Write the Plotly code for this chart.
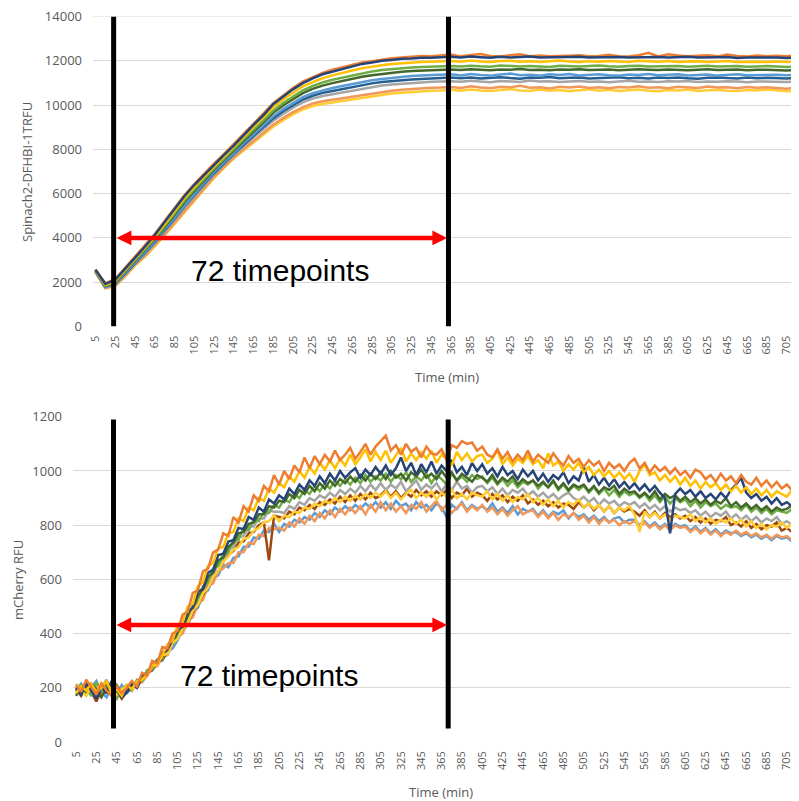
import plotly.graph_objects as go

# ---------------- data ----------------
time_top = [5, 15, 25, 35, 45, 55, 65, 75, 85, 95,
            105, 115, 125, 135, 145, 155, 165, 175, 185, 195,
            205, 215, 225, 235, 245, 255, 265, 275, 285, 295,
            305, 315, 325, 335, 345, 355, 365, 375, 385, 395,
            405, 415, 425, 435, 445, 455, 465, 475, 485, 495,
            505, 515, 525, 535, 545, 555, 565, 575, 585, 595,
            605, 615, 625, 635, 645, 655, 665, 675, 685, 695,
            705, 715]

time_bottom = [5, 10, 15, 20, 25, 30, 35, 40, 45, 50, 55, 60, 65, 70, 75, 80, 85, 90, 95, 100,
               105, 110, 115, 120, 125, 130, 135, 140, 145, 150, 155, 160, 165, 170, 175, 180, 185, 190, 195, 200,
               205, 210, 215, 220, 225, 230, 235, 240, 245, 250, 255, 260, 265, 270, 275, 280, 285, 290, 295, 300,
               305, 310, 315, 320, 325, 330, 335, 340, 345, 350, 355, 360, 365, 370, 375, 380, 385, 390, 395, 400,
               405, 410, 415, 420, 425, 430, 435, 440, 445, 450, 455, 460, 465, 470, 475, 480, 485, 490, 495, 500,
               505, 510, 515, 520, 525, 530, 535, 540, 545, 550, 555, 560, 565, 570, 575, 580, 585, 590, 595, 600,
               605, 610, 615, 620, 625, 630, 635, 640, 645, 650, 655, 660, 665, 670, 675, 680, 685, 690, 695, 700,
               705, 710, 715]

x_tick_labels = [5, 25, 45, 65, 85, 105, 125, 145, 165, 185, 205, 225, 245, 265, 285, 305, 325, 345,
                 365, 385, 405, 425, 445, 465, 485, 505, 525, 545, 565, 585, 605, 625, 645, 665, 685, 705]

# Spinach2-DFHBI-1T fluorescence (top panel)
spinach_1 = [2560, 1920, 2110, 2600, 3110, 3600, 4130, 4700, 5310, 5880, 6390, 6850, 7310, 7740, 8170, 8650, 9110, 9540, 10040, 10380,
             10710, 10990, 11210, 11390, 11510, 11650, 11740, 11860, 11920, 12000, 12040, 12090, 12100, 12140, 12140, 12170,
             12180, 12150, 12190, 12160, 12140, 12180, 12150, 12170, 12190, 12150, 12160, 12140, 12170, 12180, 12150, 12160, 12190, 12170,
             12150, 12160, 12140, 12170, 12150, 12160, 12180, 12150, 12140, 12160, 12170, 12130, 12150, 12160, 12140, 12150, 12130, 12150]
spinach_2 = [2580, 1950, 2140, 2640, 3150, 3640, 4170, 4760, 5350, 5930, 6430, 6900, 7350, 7780, 8230, 8700, 9150, 9610, 10090, 10430,
             10770, 11060, 11270, 11450, 11600, 11710, 11830, 11920, 11980, 12060, 12110, 12150, 12200, 12220, 12210, 12250,
             12280, 12200, 12260, 12310, 12220, 12190, 12250, 12290, 12210, 12240, 12200, 12230, 12230, 12250, 12200, 12220, 12270, 12210,
             12190, 12250, 12360, 12200, 12290, 12240, 12210, 12230, 12250, 12200, 12280, 12220, 12190, 12240, 12210, 12230, 12200, 12260]
spinach_3 = [2540, 1880, 2060, 2560, 3060, 3540, 4060, 4620, 5210, 5790, 6290, 6770, 7220, 7660, 8100, 8550, 9000, 9440, 9900, 10250,
             10560, 10850, 11040, 11210, 11340, 11460, 11560, 11660, 11740, 11800, 11850, 11890, 11920, 11940, 11960, 11970,
             11990, 11960, 12010, 11970, 11950, 11990, 12000, 11960, 11980, 11940, 11990, 12010, 11970, 11950, 11980, 11960, 11990, 11970,
             11940, 12000, 11980, 11960, 11990, 11950, 11970, 11980, 11940, 11960, 11990, 11950, 11970, 11960, 11940, 11970, 11950, 11960]
spinach_4 = [2520, 1850, 2020, 2500, 3000, 3480, 3980, 4540, 5110, 5680, 6190, 6670, 7140, 7570, 8020, 8450, 8890, 9310, 9750, 10090,
             10390, 10670, 10860, 11020, 11140, 11240, 11340, 11440, 11520, 11580, 11630, 11670, 11700, 11720, 11740, 11750,
             11770, 11740, 11780, 11750, 11730, 11790, 11760, 11740, 11770, 11750, 11720, 11780, 11760, 11740, 11770, 11790, 11750, 11730,
             11760, 11780, 11740, 11760, 11750, 11770, 11730, 11760, 11780, 11740, 11750, 11770, 11730, 11750, 11760, 11740, 11720, 11750]
spinach_5 = [2510, 1830, 1990, 2470, 2970, 3430, 3930, 4470, 5040, 5600, 6110, 6600, 7070, 7510, 7950, 8380, 8800, 9220, 9650, 9980,
             10270, 10540, 10730, 10880, 10990, 11090, 11180, 11280, 11350, 11410, 11460, 11500, 11540, 11560, 11580, 11590,
             11610, 11580, 11620, 11590, 11570, 11610, 11600, 11630, 11580, 11600, 11570, 11610, 11590, 11620, 11580, 11600, 11610, 11570,
             11590, 11620, 11600, 11580, 11610, 11590, 11570, 11600, 11620, 11580, 11590, 11610, 11570, 11600, 11590, 11580, 11560, 11590]
spinach_6 = [2500, 1800, 1950, 2410, 2910, 3360, 3850, 4380, 4940, 5490, 6010, 6500, 6980, 7420, 7860, 8270, 8680, 9090, 9490, 9820,
             10100, 10360, 10540, 10670, 10770, 10860, 10950, 11050, 11120, 11180, 11230, 11270, 11310, 11330, 11350, 11360,
             11390, 11340, 11400, 11360, 11330, 11380, 11420, 11350, 11370, 11330, 11390, 11360, 11400, 11340, 11370, 11390, 11350, 11330,
             11380, 11360, 11400, 11350, 11370, 11390, 11340, 11360, 11380, 11330, 11370, 11390, 11350, 11360, 11340, 11370, 11350, 11380]
spinach_7 = [2490, 1790, 1920, 2380, 2880, 3320, 3810, 4320, 4870, 5420, 5940, 6440, 6920, 7370, 7800, 8210, 8610, 9000, 9400, 9720,
             10000, 10250, 10420, 10550, 10640, 10730, 10800, 10900, 10980, 11040, 11090, 11130, 11160, 11180, 11210, 11220,
             11250, 11210, 11240, 11200, 11230, 11260, 11220, 11190, 11240, 11230, 11270, 11210, 11230, 11250, 11200, 11220, 11240, 11260,
             11210, 11230, 11200, 11240, 11220, 11250, 11210, 11190, 11230, 11250, 11220, 11200, 11240, 11210, 11230, 11220, 11200, 11230]
spinach_8 = [2480, 1770, 1900, 2340, 2840, 3270, 3750, 4260, 4800, 5350, 5870, 6370, 6860, 7310, 7740, 8130, 8530, 8910, 9290, 9600,
             9880, 10120, 10290, 10410, 10490, 10570, 10640, 10740, 10820, 10880, 10930, 10970, 11000, 11020, 11050, 11060,
             11080, 11050, 11100, 11060, 11030, 11090, 11070, 11040, 11110, 11060, 11080, 11040, 11070, 11090, 11050, 11060, 11030, 11080,
             11100, 11050, 11070, 11040, 11080, 11060, 11090, 11040, 11070, 11050, 11080, 11060, 11030, 11070, 11050, 11060, 11040, 11070]
spinach_9 = [2460, 1740, 1850, 2280, 2790, 3190, 3670, 4150, 4690, 5210, 5740, 6260, 6750, 7200, 7630, 8010, 8390, 8760, 9110, 9410,
             9680, 9900, 10070, 10170, 10240, 10310, 10370, 10470, 10540, 10600, 10650, 10690, 10730, 10750, 10780, 10790,
             10820, 10770, 10850, 10790, 10760, 10830, 10800, 10870, 10780, 10810, 10750, 10830, 10790, 10840, 10770, 10800, 10760, 10820,
             10790, 10850, 10780, 10810, 10760, 10830, 10800, 10770, 10840, 10790, 10810, 10760, 10820, 10780, 10800, 10770, 10740, 10790]
spinach_10 = [2450, 1720, 1820, 2250, 2750, 3150, 3620, 4100, 4620, 5150, 5680, 6200, 6700, 7150, 7580, 7950, 8320, 8680, 9020, 9320,
              9580, 9800, 9960, 10050, 10120, 10180, 10240, 10340, 10410, 10470, 10520, 10560, 10600, 10620, 10650, 10660,
              10690, 10650, 10700, 10660, 10630, 10680, 10720, 10660, 10640, 10700, 10650, 10680, 10630, 10670, 10710, 10650, 10690, 10640,
              10670, 10700, 10650, 10620, 10680, 10660, 10700, 10640, 10670, 10690, 10650, 10630, 10680, 10660, 10700, 10650, 10620, 10660]

# mCherry fluorescence (bottom panel)
mcherry_1 = [210, 185, 230, 200, 175, 215, 190, 170, 205, 180, 200, 225, 205, 255, 245, 300, 290, 350, 345, 400,
             410, 470, 480, 550, 560, 630, 640, 700, 710, 770, 760, 830, 810, 870, 850, 910, 890, 945, 925, 985,
             950, 1000, 970, 1020, 995, 1050, 1010, 1055, 1025, 1060, 1035, 1075, 1040, 1060, 1085, 1045, 1070, 1100, 1060, 1090,
             1110, 1130, 1075, 1095, 1060, 1100, 1070, 1085, 1050, 1090, 1065, 1060, 1080, 1040, 1095, 1085, 1110, 1100, 1105, 1075,
             1090, 1060, 1050, 1080, 1045, 1070, 1035, 1060, 1040, 1075, 1035, 1060, 1045, 1030, 1065, 1040, 1020, 1055, 1030, 1045,
             1015, 1040, 1020, 1035, 1000, 1030, 1010, 1025, 1000, 1030, 1045, 1010, 1030, 995, 1020, 1000, 1015, 990, 1010, 985,
             1000, 975, 1005, 995, 970, 985, 960, 990, 965, 980, 955, 985, 960, 950, 975, 945, 965, 940, 960, 935,
             950, 930, 925]
mcherry_2 = [180, 205, 190, 215, 185, 200, 225, 180, 195, 170, 210, 195, 225, 230, 250, 285, 290, 320, 360, 375,
             430, 440, 500, 510, 575, 590, 650, 660, 715, 720, 770, 775, 825, 815, 865, 855, 900, 890, 935, 920,
             955, 940, 980, 960, 1000, 975, 1015, 990, 1030, 1005, 1040, 1010, 1045, 1020, 1060, 1025, 1050, 1080, 1035, 1070,
             1040, 1075, 1030, 1060, 1085, 1035, 1065, 1040, 1070, 1045, 1075, 1030, 1060, 1045, 1020, 1070, 1040, 1065, 1035, 1055,
             1060, 1030, 1045, 1075, 1025, 1050, 1020, 1045, 1030, 1055, 1025, 1040, 1010, 1065, 1020, 1035, 1000, 1025, 1005, 1030,
             995, 1015, 985, 1005, 980, 1000, 975, 995, 970, 990, 960, 1000, 1025, 985, 995, 965, 985, 960, 980, 950,
             975, 945, 965, 935, 960, 940, 955, 930, 950, 925, 945, 920, 940, 915, 935, 910, 930, 905, 925, 915,
             905, 930, 915]
mcherry_3 = [200, 175, 215, 190, 160, 205, 180, 225, 190, 165, 185, 215, 200, 245, 250, 285, 295, 330, 340, 380,
             415, 425, 480, 495, 555, 565, 625, 635, 690, 695, 740, 745, 790, 785, 830, 820, 865, 850, 895, 880,
             910, 895, 935, 915, 950, 930, 965, 945, 980, 955, 990, 965, 1000, 975, 995, 1010, 975, 1005, 985, 1015,
             990, 1020, 985, 1010, 1050, 1000, 1030, 985, 1025, 995, 1035, 990, 1020, 1000, 1040, 995, 1015, 985, 1030, 1000,
             1025, 990, 1010, 980, 1015, 985, 1000, 970, 1005, 980, 1000, 965, 990, 960, 985, 970, 995, 955, 980, 965,
             1015, 960, 985, 950, 975, 945, 970, 940, 960, 935, 955, 930, 950, 925, 945, 920, 900, 770, 915, 935,
             915, 930, 905, 925, 900, 915, 895, 920, 900, 930, 950, 975, 920, 900, 915, 890, 905, 880, 900, 875,
             885, 870, 868]
mcherry_4 = [185, 210, 195, 170, 220, 190, 205, 180, 160, 195, 210, 190, 230, 225, 265, 270, 305, 310, 350, 360,
             390, 440, 450, 505, 520, 575, 590, 640, 650, 695, 700, 745, 745, 790, 780, 820, 815, 850, 845, 875,
             865, 895, 885, 915, 900, 930, 915, 945, 925, 955, 935, 965, 945, 970, 950, 975, 955, 985, 960, 980,
             965, 990, 960, 985, 970, 995, 960, 980, 965, 990, 955, 985, 970, 950, 990, 965, 980, 960, 985, 970,
             980, 955, 975, 950, 970, 945, 965, 940, 960, 950, 965, 935, 955, 940, 960, 930, 950, 925, 945, 930,
             945, 920, 940, 915, 935, 910, 930, 905, 925, 910, 920, 900, 915, 890, 910, 885, 905, 880, 900, 885,
             895, 870, 890, 865, 885, 870, 880, 860, 875, 865, 870, 855, 875, 850, 865, 845, 860, 840, 855, 850,
             845, 860, 850]
mcherry_5 = [170, 200, 180, 215, 195, 165, 200, 185, 210, 175, 185, 200, 220, 240, 250, 280, 300, 315, 345, 365,
             405, 420, 465, 490, 540, 560, 610, 625, 670, 680, 720, 735, 770, 775, 805, 810, 840, 840, 870, 865,
             890, 885, 915, 900, 930, 915, 945, 925, 955, 935, 965, 945, 970, 955, 980, 960, 985, 965, 990, 970,
             995, 970, 1000, 975, 990, 965, 995, 980, 1005, 975, 990, 970, 1000, 975, 995, 965, 990, 975, 960, 985,
             975, 960, 985, 955, 975, 960, 980, 950, 970, 955, 965, 945, 960, 940, 965, 935, 955, 930, 950, 940,
             950, 925, 945, 920, 940, 930, 945, 915, 935, 920, 925, 905, 920, 900, 925, 895, 915, 900, 910, 890,
             905, 885, 900, 880, 895, 875, 890, 880, 900, 870, 885, 865, 880, 860, 875, 855, 870, 850, 865, 855,
             860, 875, 860]
mcherry_6 = [205, 180, 220, 195, 175, 200, 230, 190, 170, 200, 190, 215, 210, 240, 260, 270, 300, 310, 345, 360,
             400, 420, 460, 485, 530, 555, 600, 615, 660, 670, 710, 720, 755, 760, 795, 795, 825, 825, 855, 850,
             850, 845, 870, 860, 885, 875, 900, 890, 910, 900, 920, 905, 930, 915, 935, 920, 945, 925, 950, 930,
             955, 930, 950, 935, 960, 925, 945, 965, 930, 950, 935, 955, 925, 950, 930, 960, 935, 945, 920, 940,
             945, 925, 940, 915, 935, 910, 930, 920, 935, 910, 925, 905, 920, 900, 915, 895, 910, 920, 900, 890,
             905, 885, 900, 875, 895, 880, 890, 870, 885, 875, 885, 865, 880, 860, 875, 855, 870, 850, 865, 855,
             860, 845, 855, 835, 850, 830, 845, 835, 850, 825, 840, 820, 835, 815, 830, 810, 825, 815, 830, 805,
             815, 800, 810]
mcherry_7 = [190, 215, 175, 200, 225, 185, 165, 200, 180, 210, 180, 200, 220, 225, 255, 265, 295, 300, 335, 345,
             375, 415, 430, 480, 495, 545, 560, 605, 615, 655, 645, 680, 685, 720, 720, 755, 750, 780, 775, 805,
             775, 805, 795, 820, 810, 830, 820, 845, 830, 855, 840, 865, 850, 870, 855, 875, 860, 880, 865, 885,
             865, 885, 860, 890, 870, 880, 855, 885, 865, 875, 855, 880, 865, 830, 875, 860, 885, 855, 875, 860,
             870, 855, 880, 850, 865, 845, 870, 840, 860, 850, 860, 835, 855, 830, 850, 840, 855, 825, 845, 830,
             840, 820, 835, 815, 830, 810, 825, 830, 810, 820, 820, 800, 815, 795, 810, 790, 805, 785, 805, 795,
             800, 780, 795, 775, 790, 770, 785, 765, 780, 770, 775, 760, 770, 755, 765, 750, 760, 745, 760, 750,
             755, 740, 750]
mcherry_8 = [175, 200, 215, 185, 205, 170, 210, 195, 160, 185, 200, 190, 225, 220, 245, 275, 280, 315, 320, 360,
             390, 400, 445, 460, 510, 525, 575, 585, 630, 640, 660, 660, 700, 700, 735, 730, 765, 760, 790, 785,
             790, 780, 810, 795, 825, 805, 835, 815, 845, 825, 855, 830, 860, 840, 865, 845, 870, 840, 875, 850,
             885, 855, 880, 850, 870, 845, 875, 860, 885, 850, 870, 890, 855, 875, 845, 865, 880, 850, 870, 855,
             875, 850, 865, 840, 860, 835, 855, 870, 840, 850, 855, 830, 850, 825, 845, 820, 840, 830, 845, 820,
             835, 810, 830, 805, 825, 810, 820, 800, 815, 805, 815, 795, 810, 790, 805, 785, 800, 780, 800, 790,
             795, 775, 790, 770, 785, 765, 780, 760, 775, 765, 780, 765, 775, 760, 770, 755, 765, 750, 765, 755,
             760, 745, 750]
mcherry_9 = [215, 190, 170, 205, 180, 220, 185, 200, 175, 195, 205, 195, 215, 240, 245, 280, 285, 320, 325, 365,
             380, 420, 440, 485, 505, 550, 570, 610, 630, 665, 685, 710, 720, 750, 755, 780, 790, 810, 815, 835,
             815, 835, 830, 850, 845, 865, 860, 880, 870, 890, 880, 900, 885, 905, 890, 910, 895, 915, 900, 920,
             905, 925, 900, 920, 895, 915, 930, 900, 920, 905, 925, 895, 920, 905, 930, 900, 915, 895, 920, 910,
             905, 925, 895, 915, 890, 910, 885, 905, 895, 915, 885, 900, 875, 895, 870, 890, 865, 885, 875, 895,
             865, 880, 860, 875, 850, 870, 845, 865, 855, 870, 840, 775, 850, 830, 845, 825, 840, 820, 835, 830,
             825, 840, 815, 830, 810, 825, 805, 820, 810, 825, 805, 820, 795, 815, 790, 805, 785, 800, 795, 810,
             790, 805, 785]
mcherry_10 = [195, 170, 205, 185, 150, 190, 215, 175, 195, 160, 185, 210, 200, 235, 255, 265, 295, 305, 330, 365,
              385, 420, 440, 480, 505, 545, 575, 610, 630, 665, 690, 705, 735, 740, 770, 775, 800, 810, 670, 835,
              830, 825, 850, 840, 865, 855, 875, 860, 885, 875, 895, 880, 905, 885, 910, 890, 915, 895, 920, 900,
              910, 930, 905, 925, 900, 920, 905, 930, 910, 925, 905, 925, 910, 930, 900, 920, 910, 935, 905, 920,
              910, 890, 915, 895, 910, 885, 905, 890, 910, 880, 895, 875, 890, 870, 885, 865, 880, 875, 860, 885,
              865, 880, 855, 875, 850, 870, 845, 865, 850, 860, 850, 835, 855, 830, 850, 825, 845, 830, 840, 825,
              835, 815, 830, 810, 825, 805, 820, 815, 830, 800, 810, 795, 815, 790, 805, 785, 800, 795, 810, 780,
              790, 775, 755]

# ---------------- figure ----------------
# The page body keeps an 8 px margin, so the figure is 8 px smaller and all
# window-pixel positions below are shifted by OFF.
OFF = 8
W, H = 799 - OFF, 801 - OFF
FONT = "Open Sans"
GREY = "#595959"
GRID = "#D9D9D9"


def fx(px):
    return (px - OFF) / W


def fy(py):
    return 1 - (py - OFF) / H


top_series = [
    (spinach_10, "#FFCD33"), (spinach_9, "#F1975A"), (spinach_8, "#A5A5A5"),
    (spinach_7, "#255E91"), (spinach_6, "#5B9BD5"), (spinach_5, "#43682B"),
    (spinach_4, "#70AD47"), (spinach_3, "#FFC000"), (spinach_2, "#ED7D31"),
    (spinach_1, "#264478"),
]
bottom_series = [
    (mcherry_7, "#5B9BD5"), (mcherry_8, "#F1975A"), (mcherry_10, "#9E480E"),
    (mcherry_6, "#A5A5A5"), (mcherry_4, "#70AD47"), (mcherry_5, "#43682B"),
    (mcherry_9, "#FFCD33"), (mcherry_3, "#264478"), (mcherry_2, "#FFC000"),
    (mcherry_1, "#ED7D31"),
]

fig = go.Figure()
for ys, col in top_series:
    fig.add_trace(go.Scatter(x=time_top[:len(ys)], y=ys, mode="lines",
                             line=dict(color=col, width=2.5),
                             xaxis="x", yaxis="y", showlegend=False, hoverinfo="skip"))
for ys, col in bottom_series:
    fig.add_trace(go.Scatter(x=time_bottom[:len(ys)], y=ys, mode="lines",
                             line=dict(color=col, width=2.5),
                             xaxis="x2", yaxis="y2", showlegend=False, hoverinfo="skip"))


def xax(domain, rng, anchor):
    return dict(domain=domain, range=rng, anchor=anchor, automargin=False,
                tickmode="array", tickvals=x_tick_labels,
                ticktext=[str(v) for v in x_tick_labels],
                tickangle=-90, tickfont=dict(family=FONT, size=11, color=GREY),
                showgrid=False, zeroline=False, showline=False, ticks="",
                ticklabelstandoff=6, ticklabeloverflow="allow", fixedrange=True)


def yax(domain, rng, dtick, anchor):
    return dict(domain=domain, range=rng, anchor=anchor, dtick=dtick, tick0=0,
                automargin=False, tickformat="d", ticklabeloverflow="allow",
                gridcolor=GRID, gridwidth=1, zeroline=False, showline=False,
                ticks="", tickfont=dict(family=FONT, size=13, color=GREY),
                ticklabelstandoff=10, fixedrange=True)


fig.update_layout(
    width=W, height=H, margin=dict(l=0, r=0, t=0, b=0, autoexpand=False),
    paper_bgcolor="white", plot_bgcolor="white",
    xaxis=xax([fx(93), 1.0], [2.5, 717.5], "y"),
    yaxis=yax([fy(326.5), fy(16.5)], [0, 14000], 2000, "x"),
    xaxis2=xax([fx(73), 1.0], [2, 717], "y2"),
    yaxis2=yax([fy(742), fy(416.5)], [0, 1201], 200, "x2"),
)

shapes = []
# top gridline of the upper panel (sits on the plot edge)
shapes.append(dict(type="line", xref="x domain", yref="y", x0=0, x1=1,
                   y0=14000, y1=14000, layer="below",
                   line=dict(color=GRID, width=1)))
# black marker lines
for xv in [23.4, 362.5]:
    shapes.append(dict(type="line", xref="x", yref="y", x0=xv, x1=xv, y0=0, y1=14000,
                       line=dict(color="black", width=5)))
for xv in [41.9, 371.5]:
    shapes.append(dict(type="line", xref="x2", yref="y2", x0=xv, x1=xv, y0=50, y1=1190,
                       line=dict(color="black", width=5)))
fig.update_layout(shapes=shapes)

ann = []
# red double-headed arrows
ann.append(dict(xref="x", yref="y", axref="x", ayref="y", x=361, y=4000, ax=25, ay=4000,
                showarrow=True, arrowside="end+start", arrowhead=2, startarrowhead=2,
                arrowsize=0.65, startarrowsize=0.65, arrowwidth=4.5, arrowcolor="#FF0000", text=""))
ann.append(dict(xref="x2", yref="y2", axref="x2", ayref="y2", x=370.3, y=432, ax=43.4, ay=432,
                showarrow=True, arrowside="end+start", arrowhead=2, startarrowhead=2,
                arrowsize=0.65, startarrowsize=0.65, arrowwidth=4.5, arrowcolor="#FF0000", text=""))
# "72 timepoints" labels
ann.append(dict(xref="x", yref="y", x=192, y=2540, text="72 timepoints", showarrow=False,
                xanchor="center", yanchor="middle",
                font=dict(family="Liberation Sans", size=30, color="black")))
ann.append(dict(xref="x2", yref="y2", x=195, y=244, text="72 timepoints", showarrow=False,
                xanchor="center", yanchor="middle",
                font=dict(family="Liberation Sans", size=30, color="black")))
# axis titles
ann.append(dict(xref="paper", yref="paper", x=fx(447), y=fy(377), text="Time (min)",
                showarrow=False, xanchor="center", yanchor="middle",
                font=dict(family=FONT, size=13, color=GREY)))
ann.append(dict(xref="paper", yref="paper", x=fx(441), y=fy(792), text="Time (min)",
                showarrow=False, xanchor="center", yanchor="middle",
                font=dict(family=FONT, size=13, color=GREY)))
ann.append(dict(xref="paper", yref="paper", x=fx(27), y=fy(172), text="Spinach2-DFHBI-1TRFU",
                showarrow=False, xanchor="center", yanchor="middle", textangle=-90,
                font=dict(family=FONT, size=13, color=GREY)))
ann.append(dict(xref="paper", yref="paper", x=fx(18), y=fy(580), text="mCherry RFU",
                showarrow=False, xanchor="center", yanchor="middle", textangle=-90,
                font=dict(family=FONT, size=13, color=GREY)))
fig.update_layout(annotations=ann)

fig.write_html("out.html")
